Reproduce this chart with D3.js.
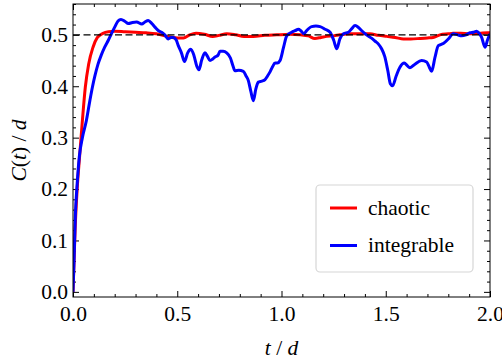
<!DOCTYPE html>
<html>
<head>
<meta charset="utf-8">
<script src="https://cdn.jsdelivr.net/npm/d3@7"></script>
<style>
  body { margin: 0; background: #fff; }
</style>
</head>
<body>
<div id="chart"></div>
<script>
// chaotic curve, C(t)/d against t/d
var chaoticT = [0, 0.005, 0.01, 0.02, 0.032, 0.045, 0.059, 0.075, 0.096, 0.117, 0.144, 0.17, 0.2, 0.25, 0.3, 0.35, 0.4, 0.45, 0.5, 0.53, 0.56, 0.59, 0.63, 0.67, 0.7, 0.737, 0.78, 0.82, 0.865, 0.92, 0.977, 1.04, 1.09, 1.128, 1.16, 1.19, 1.217, 1.25, 1.28, 1.33, 1.376, 1.424, 1.465, 1.505, 1.545, 1.585, 1.62, 1.664, 1.7, 1.727, 1.76, 1.8, 1.823, 1.86, 1.9, 1.95, 1.99, 2.0];
var chaoticC = [0, 0.06, 0.12, 0.2, 0.265, 0.333, 0.398, 0.443, 0.476, 0.495, 0.503, 0.506, 0.507, 0.506, 0.505, 0.504, 0.502, 0.497, 0.494, 0.494, 0.5, 0.503, 0.501, 0.497, 0.499, 0.502, 0.5, 0.497, 0.497, 0.499, 0.5, 0.501, 0.5, 0.498, 0.493, 0.495, 0.497, 0.498, 0.5, 0.502, 0.502, 0.502, 0.499, 0.497, 0.495, 0.492, 0.492, 0.493, 0.494, 0.495, 0.5, 0.502, 0.503, 0.503, 0.502, 0.503, 0.504, 0.504];

// integrable curve
var integrableT = [0, 0.005, 0.011, 0.02, 0.03, 0.045, 0.064, 0.08, 0.094, 0.105, 0.12, 0.135, 0.152, 0.17, 0.184, 0.2, 0.216, 0.23, 0.25, 0.265, 0.285, 0.305, 0.33, 0.345, 0.361, 0.378, 0.393, 0.41, 0.425, 0.44, 0.457, 0.47, 0.481, 0.495, 0.505, 0.52, 0.535, 0.55, 0.565, 0.58, 0.593, 0.604, 0.618, 0.633, 0.645, 0.657, 0.67, 0.681, 0.695, 0.705, 0.72, 0.737, 0.755, 0.767, 0.777, 0.795, 0.817, 0.83, 0.841, 0.853, 0.865, 0.877, 0.889, 0.905, 0.921, 0.933, 0.945, 0.957, 0.969, 0.98, 0.993, 1.01, 1.025, 1.049, 1.065, 1.081, 1.093, 1.108, 1.12, 1.145, 1.165, 1.185, 1.209, 1.233, 1.25, 1.265, 1.28, 1.297, 1.321, 1.337, 1.353, 1.37, 1.385, 1.408, 1.43, 1.448, 1.465, 1.48, 1.495, 1.51, 1.522, 1.533, 1.55, 1.568, 1.589, 1.603, 1.616, 1.64, 1.672, 1.696, 1.708, 1.72, 1.736, 1.752, 1.776, 1.8, 1.824, 1.845, 1.864, 1.885, 1.904, 1.92, 1.936, 1.948, 1.96, 1.976, 1.988, 2.0];
var integrableC = [0, 0.06, 0.146, 0.21, 0.262, 0.3, 0.333, 0.37, 0.4, 0.42, 0.443, 0.46, 0.476, 0.49, 0.502, 0.515, 0.527, 0.53, 0.526, 0.522, 0.524, 0.525, 0.521, 0.525, 0.528, 0.522, 0.515, 0.508, 0.505, 0.5, 0.492, 0.495, 0.495, 0.49, 0.479, 0.465, 0.448, 0.465, 0.472, 0.46, 0.44, 0.432, 0.452, 0.465, 0.458, 0.45, 0.453, 0.457, 0.46, 0.468, 0.468, 0.465, 0.455, 0.44, 0.43, 0.431, 0.429, 0.42, 0.411, 0.39, 0.372, 0.395, 0.408, 0.41, 0.413, 0.42, 0.428, 0.438, 0.445, 0.445, 0.45, 0.476, 0.498, 0.505, 0.508, 0.511, 0.508, 0.502, 0.508, 0.516, 0.517, 0.516, 0.511, 0.505, 0.49, 0.473, 0.492, 0.502, 0.505, 0.512, 0.518, 0.514, 0.508, 0.5, 0.494, 0.488, 0.482, 0.473, 0.458, 0.43, 0.405, 0.401, 0.42, 0.437, 0.445, 0.44, 0.436, 0.443, 0.45, 0.447, 0.438, 0.429, 0.456, 0.479, 0.483, 0.492, 0.502, 0.5, 0.498, 0.5, 0.504, 0.505, 0.507, 0.503, 0.495, 0.476, 0.49, 0.502];

var xMajor = [0, 0.5, 1.0, 1.5, 2.0];
var yMajor = [0, 0.1, 0.2, 0.3, 0.4, 0.5];
var seriesNames = ["chaotic", "integrable"];
var seriesColors = ["#ff0000", "#0000ff"];
var plateau = 0.5;

var width = 502, height = 363,
    margin = {top: 4, right: 12, bottom: 66, left: 73},
    w = width - margin.left - margin.right,
    h = height - margin.top - margin.bottom,
    fontSize = 21.5,
    fontStack = '"Liberation Serif", Tinos, "Times New Roman", serif';

var svg = d3.select('#chart').append('svg')
    .attr('width', width)
    .attr('height', height)
    .attr('font-family', fontStack);

var g = svg.append('g')
    .attr('transform', 'translate(' + margin.left + ',' + margin.top + ')');

var x = d3.scaleLinear().domain([0, 2]).range([0, w]);
var y = d3.scaleLinear().domain([-0.01, 0.56]).range([h, 0]);

// minor ticks every 0.1 on x and 0.02 on y, skipping the majors
var xMinor = d3.range(0, 2.001, 0.1).filter(function(v) { return Math.abs(v / 0.5 - Math.round(v / 0.5)) > 1e-6; });
var yMinor = d3.range(0, 0.561, 0.02).filter(function(v) { return Math.abs(v / 0.1 - Math.round(v / 0.1)) > 1e-6; });

function styleAxis(sel) {
  sel.attr('font-family', fontStack).attr('font-size', fontSize);
  sel.select('.domain').remove();
  sel.selectAll('line').attr('stroke', '#000').attr('stroke-width', 1);
  sel.selectAll('text').attr('fill', '#000');
}

// bottom + left with labels, inward ticks
g.append('g').attr('transform', 'translate(0,' + h + ')')
  .call(d3.axisBottom(x).tickValues(xMajor).tickSize(-6).tickPadding(9).tickFormat(d3.format('.1f')))
  .call(styleAxis);
g.append('g').attr('transform', 'translate(0,' + h + ')')
  .call(d3.axisBottom(x).tickValues(xMinor).tickSize(-3).tickFormat(''))
  .call(styleAxis);
g.append('g')
  .call(d3.axisLeft(y).tickValues(yMajor).tickSize(-6).tickPadding(5).tickFormat(d3.format('.1f')))
  .call(styleAxis);
g.append('g')
  .call(d3.axisLeft(y).tickValues(yMinor).tickSize(-3).tickFormat(''))
  .call(styleAxis);

// top + right, ticks only
g.append('g')
  .call(d3.axisTop(x).tickValues(xMajor).tickSize(-6).tickFormat(''))
  .call(styleAxis);
g.append('g')
  .call(d3.axisTop(x).tickValues(xMinor).tickSize(-3).tickFormat(''))
  .call(styleAxis);
g.append('g').attr('transform', 'translate(' + w + ',0)')
  .call(d3.axisRight(y).tickValues(yMajor).tickSize(-6).tickFormat(''))
  .call(styleAxis);
g.append('g').attr('transform', 'translate(' + w + ',0)')
  .call(d3.axisRight(y).tickValues(yMinor).tickSize(-3).tickFormat(''))
  .call(styleAxis);

svg.append('clipPath').attr('id', 'clip')
  .append('rect').attr('width', w).attr('height', h);

var line = d3.line()
  .x(function(d) { return x(d[0]); })
  .y(function(d) { return y(d[1]); })
  .curve(d3.curveMonotoneX);

var series = [d3.zip(chaoticT, chaoticC), d3.zip(integrableT, integrableC)];

var plot = g.append('g').attr('clip-path', 'url(#clip)');
series.forEach(function(pts, i) {
  plot.append('path')
    .datum(pts)
    .attr('fill', 'none')
    .attr('stroke', seriesColors[i])
    .attr('stroke-width', 3)
    .attr('stroke-linejoin', 'round')
    .attr('d', line);
});

plot.append('line')
  .attr('x1', 0).attr('x2', w)
  .attr('y1', y(plateau)).attr('y2', y(plateau))
  .attr('stroke', '#000')
  .attr('stroke-width', 1.3)
  .attr('stroke-dasharray', '7,3.5');

// frame
g.append('rect')
  .attr('width', w).attr('height', h)
  .attr('fill', 'none').attr('stroke', '#000').attr('stroke-width', 1);

// axis titles
var xt = svg.append('text')
  .attr('x', margin.left + w / 2).attr('y', 355)
  .attr('text-anchor', 'middle')
  .attr('font-size', fontSize);
xt.append('tspan').attr('font-style', 'italic').text('t');
xt.append('tspan').text(' / ');
xt.append('tspan').attr('font-style', 'italic').text('d');

var yt = svg.append('text')
  .attr('transform', 'translate(26,' + (margin.top + h / 2) + ')rotate(-90)')
  .attr('text-anchor', 'middle')
  .attr('font-size', fontSize);
yt.append('tspan').attr('font-style', 'italic').text('C');
yt.append('tspan').text('(');
yt.append('tspan').attr('font-style', 'italic').text('t');
yt.append('tspan').text(') / ');
yt.append('tspan').attr('font-style', 'italic').text('d');

// legend
var legend = svg.append('g');
legend.append('rect')
  .attr('x', 316).attr('y', 185)
  .attr('width', 157).attr('height', 87)
  .attr('rx', 4)
  .attr('fill', '#fff').attr('fill-opacity', 0.8)
  .attr('stroke', '#d6d6d6').attr('stroke-width', 1.2);

seriesNames.forEach(function(name, i) {
  var ly = 208 + i * 37.5;
  legend.append('line')
    .attr('x1', 330).attr('x2', 357)
    .attr('y1', ly).attr('y2', ly)
    .attr('stroke', seriesColors[i]).attr('stroke-width', 3);
  legend.append('text')
    .attr('x', 368).attr('y', ly)
    .attr('dy', '0.32em')
    .attr('font-size', fontSize)
    .text(name);
});
</script>
</body>
</html>
